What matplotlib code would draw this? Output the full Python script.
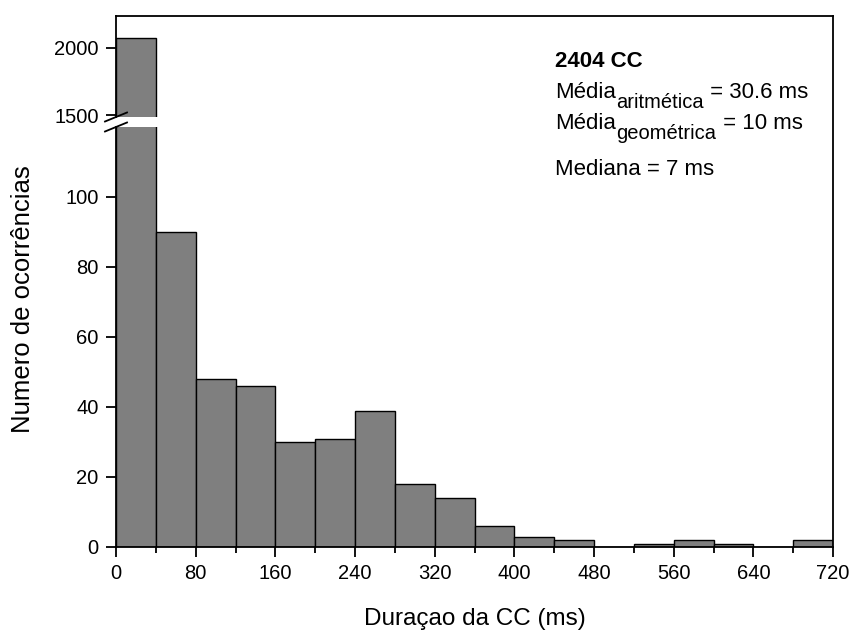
import numpy as np
import matplotlib
matplotlib.use('Agg')
from matplotlib import pyplot as plt
from matplotlib.lines import Line2D
from matplotlib.text import Annotation
from matplotlib.ticker import MultipleLocator

plt.rcParams['font.family'] = ['Liberation Sans', 'DejaVu Sans']

# Histograma das duracoes da CC (classes de 40 ms)
bin_edges = np.arange(0, 760, 40)
counts = [2071, 90, 48, 46, 30, 31, 39, 18, 14, 6, 3, 2, 0, 1, 2, 1, 0, 2]
x_ticks = [0, 80, 160, 240, 320, 400, 480, 560, 640, 720]
low_ticks = [0, 20, 40, 60, 80, 100]
high_ticks = [1500, 2000]

fig = plt.figure(figsize=(8.52, 6.3), dpi=100)
left, right = 116 / 852, 833 / 852
low_bot, low_top = 1 - 547 / 630, 1 - 127 / 630
high_bot, high_top = 1 - 117 / 630, 1 - 16 / 630
ax_low = fig.add_axes([left, low_bot, right - left, low_top - low_bot])
ax_high = fig.add_axes([left, high_bot, right - left, high_top - high_bot])

bar_style = dict(width=40, align='edge', color='#7f7f7f', edgecolor='black', linewidth=1.0)
for ax in (ax_low, ax_high):
    ax.bar(bin_edges[:-1], counts, **bar_style)
    ax.set_xlim(0, 720)
    ax.tick_params(direction='out', length=7.5, width=1.3, labelsize=14.5, pad=5)
    ax.tick_params(which='minor', direction='out', length=4.5, width=1.3)
    for s in ax.spines.values():
        s.set_linewidth(1.3)

ax_low.set_ylim(0, 120)
ax_low.set_yticks(low_ticks)
ax_low.set_xticks(x_ticks)
ax_low.xaxis.set_minor_locator(MultipleLocator(40))
ax_low.spines['top'].set_visible(False)
ax_low.spines['right'].set_visible(False)

ax_high.set_ylim(1486, 2236)
ax_high.set_yticks(high_ticks)
ax_high.set_xticks([])
ax_high.spines['bottom'].set_visible(False)
ax_high.spines['right'].set_visible(False)

# borda direita continua entre os dois eixos
fig.add_artist(Line2D([right, right], [low_bot, high_top], transform=fig.transFigure,
                      color='black', linewidth=1.3))

# marcas de quebra do eixo y
dx, dy = 11 / 852, 4.5 / 630
for y0 in (high_bot, low_top):
    fig.add_artist(Line2D([left - dx, left + dx], [y0 - dy, y0 + dy],
                          transform=fig.transFigure, color='black', linewidth=1.3))

fig.text((left + right) / 2, 1 - 625 / 630, 'Duraçao da CC (ms)', fontsize=17.5,
         ha='center', va='baseline')
fig.text(23 / 852, 1 - 299 / 630, 'Numero de ocorrências', rotation=90, fontsize=18.5,
         ha='center', va='center')

# caixa de estatisticas
main_fs, sub_fs = 16, 14.5
tx = 555 / 852
fig.text(tx, 1 - 67 / 630, '2404 CC', fontsize=main_fs, fontweight='bold', va='baseline')


def stat_line(y_px, subscript, rest, drop=6.5):
    t = fig.text(tx, 1 - y_px / 630, 'Média', fontsize=main_fs, va='baseline')
    # subscrito encostado no fim de "Média", abaixo da linha de base
    sub = Annotation(subscript, xy=(1, 0), xycoords=t, xytext=(0.5, -drop),
                     textcoords='offset points', fontsize=sub_fs, va='bottom', ha='left')
    fig.add_artist(sub)
    tail = Annotation(rest, xy=(1, 0), xycoords=sub, xytext=(0, drop),
                      textcoords='offset points', fontsize=main_fs, va='bottom', ha='left')
    fig.add_artist(tail)


stat_line(98, 'aritmética', ' = 30.6 ms')
stat_line(129, 'geométrica', ' = 10 ms')
fig.text(tx, 1 - 175 / 630, 'Mediana = 7 ms', fontsize=main_fs, va='baseline')

plt.savefig('out.png', dpi=100)
